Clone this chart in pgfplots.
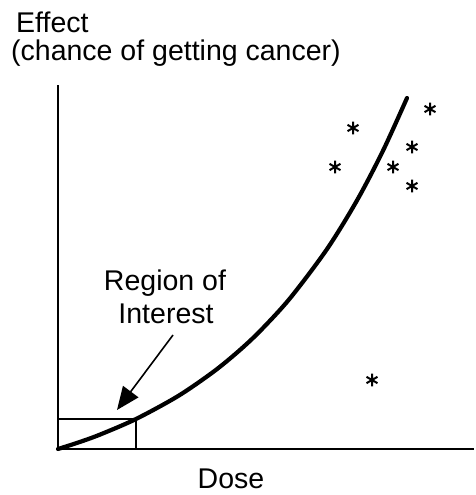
\documentclass[border=0pt]{standalone}
\usepackage{fontspec}
\setmainfont{Liberation Sans}
\usepackage{pgfplots}
\pgfplotsset{compat=1.18}
\usetikzlibrary{arrows.meta}
\begin{document}
\fontsize{28.5}{33}\selectfont
\begin{tikzpicture}
\path (-58pt,-46pt) rectangle (416pt,449pt);
\begin{axis}[
  at={(0pt,0pt)}, anchor=south west,
  scale only axis, width=416pt, height=364pt,
  xmin=0, xmax=416, ymin=0, ymax=364,
  axis lines*=left,
  axis line style={line width=2pt, black},
  xtick=\empty, ytick=\empty,
  clip=false,
]
% region box
\addplot[black, line width=1.6pt] coordinates {(0,30) (78,30) (78,0)};
% dose-response curve
\addplot[black, line width=4.2pt, smooth, line cap=round] coordinates {
  (0,0) (20,6.4) (42,14.4) (78,30) (120,52.9) (155,76.9) (180,97.3)
  (202,117.9) (232,150.7) (269,199.9) (299,248.6) (325,298.3) (349,351)};
% observed data
\addplot[only marks, mark=asterisk, mark size=6.3pt, mark options={line width=2pt, black}] coordinates {
  (372,340) (295,321) (354,302) (277,282) (335,282) (354,263) (314,69)};
% arrow
\draw[line width=1.6pt, -{Triangle[length=23pt,width=19pt]}] (axis cs:115,114) -- (axis cs:59,39);
\node[anchor=base, inner sep=0pt] at (axis cs:107,158) {Region of};
\node[anchor=base, inner sep=0pt] at (axis cs:108,125) {Interest};
\node[anchor=base, inner sep=0pt] at (axis cs:173,-39) {Dose};
\node[anchor=base west, inner sep=0pt] at (axis cs:-42,416) {Effect};
\node[anchor=base west, inner sep=0pt] at (axis cs:-47,388) {(chance of getting cancer)};
\end{axis}
\end{tikzpicture}
\end{document}
